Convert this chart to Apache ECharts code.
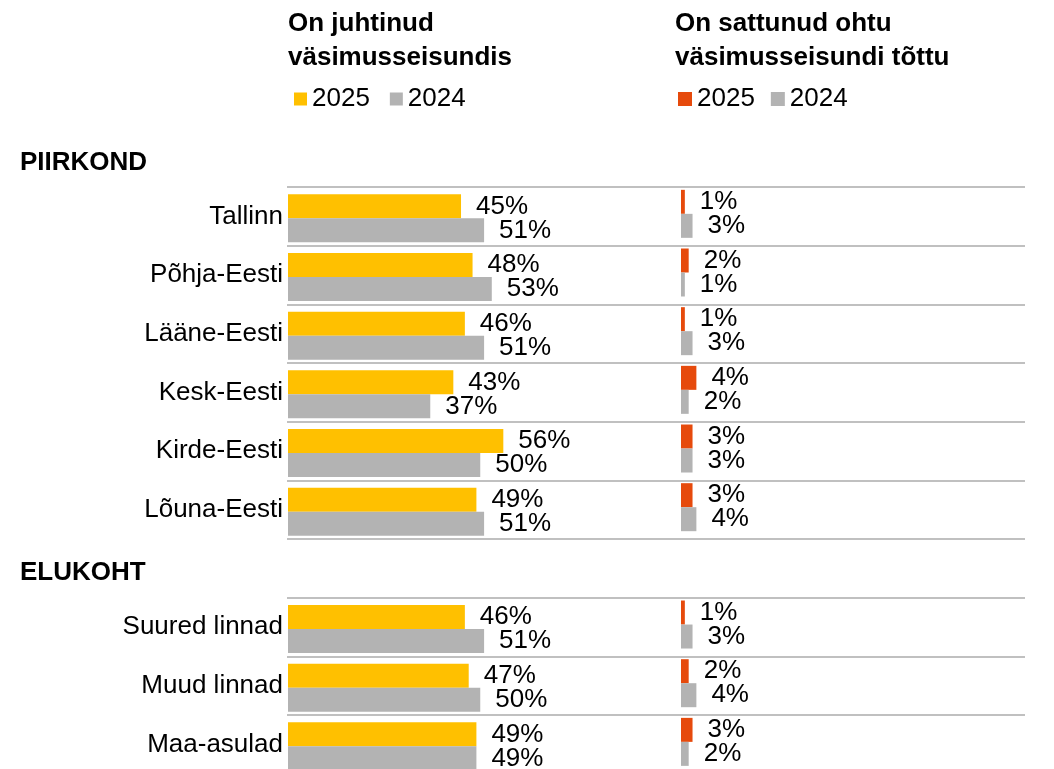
<!DOCTYPE html>
<html>
<head>
<meta charset="utf-8">
<script src="https://cdn.jsdelivr.net/npm/echarts@6/dist/echarts.min.js"></script>
<style>
	html, body {margin: 0; padding: 0; background: #fff;}
	#ec1 {width: 1054px; height: 769px;}
</style>
</head>
<body>
<div id="ec1"></div>
<script>
// piirkond + elukoht, tühi rida vahel
var categories = ['Tallinn', 'Põhja-Eesti', 'Lääne-Eesti', 'Kesk-Eesti', 'Kirde-Eesti', 'Lõuna-Eesti', '', 'Suured linnad', 'Muud linnad', 'Maa-asulad'];
var juhtinud2025 = [45, 48, 46, 43, 56, 49, '-', 46, 47, 49];
var juhtinud2024 = [51, 53, 51, 37, 50, 51, '-', 51, 50, 49];
var ohtu2025 = [1, 2, 1, 4, 3, 3, '-', 1, 2, 3];
var ohtu2024 = [3, 1, 3, 2, 3, 4, '-', 3, 4, 2];
var years = ['2025', '2024'];

var FONT = 'Liberation Sans, Arial, sans-serif';

window.onload = function(){
	joonis();
};

function tulp(name, data, color, axis){
	return {
		name: name,
		type: 'bar',
		xAxisIndex: axis,
		yAxisIndex: axis,
		data: data,
		barWidth: 24,
		barGap: '0%',
		itemStyle: {color: color},
		label: {
			show: true,
			position: 'right',
			distance: 15,
			formatter: '{c}%',
			fontSize: 26,
			fontFamily: FONT,
			color: '#000'
		}
	};
}

function joonis(){
	var myCharts = echarts.init(document.getElementById('ec1'));
	var titleStyle = {fontSize: 26, fontWeight: 'bold', fontFamily: FONT, color: '#000', lineHeight: 34};
	var legendText = {fontSize: 26, fontFamily: FONT, color: '#000'};
	option = {
		animation: false,
		textStyle: {fontFamily: FONT},
		title: [
			{text: 'On juhtinud\nväsimusseisundis', left: 288, top: 6.5, padding: 0, textStyle: titleStyle},
			{text: 'On sattunud ohtu\nväsimusseisundi tõttu', left: 675, top: 6.5, padding: 0, textStyle: titleStyle},
			{text: 'PIIRKOND', left: 20, top: 145.5, padding: 0, textStyle: titleStyle},
			{text: 'ELUKOHT', left: 20, top: 556, padding: 0, textStyle: titleStyle}
		],
		legend: [
			{
				left: 294, top: 86, padding: 0,
				icon: 'rect', itemWidth: 13, itemHeight: 13, itemGap: 20,
				textStyle: legendText,
				data: [{name: years[0], itemStyle: {color: '#FFC000'}}, {name: years[1], itemStyle: {color: '#B3B3B3'}}]
			},
			{
				left: 678, top: 86, padding: 0,
				icon: 'rect', itemWidth: 14, itemHeight: 14, itemGap: 16,
				textStyle: legendText,
				data: [{name: years[0], itemStyle: {color: '#E64A0C'}}, {name: years[1], itemStyle: {color: '#B3B3B3'}}]
			}
		],
		grid: [
			// joonte ja siltide jaoks
			{left: 287, top: 187, width: 738, height: 586.7, outerBoundsMode: 'none'},
			{left: 288, top: 189, width: 384.5, height: 586.7, outerBoundsMode: 'none'},
			{left: 681, top: 184.5, width: 384.5, height: 586.7, outerBoundsMode: 'none'}
		],
		xAxis: [
			{gridIndex: 0, type: 'value', min: 0, max: 1, show: false},
			{gridIndex: 1, type: 'value', min: 0, max: 100, show: false},
			{gridIndex: 2, type: 'value', min: 0, max: 100, show: false}
		],
		yAxis: [
			{
				gridIndex: 0,
				type: 'category',
				inverse: true,
				data: categories,
				axisLine: {show: false},
				axisTick: {show: false},
				axisLabel: {fontSize: 26, fontFamily: FONT, color: '#000', margin: 4, interval: 0},
				splitLine: {show: true, interval: 0, lineStyle: {color: '#C0C0C0', width: 2}}
			},
			{gridIndex: 1, type: 'category', inverse: true, data: categories, show: false},
			{gridIndex: 2, type: 'category', inverse: true, data: categories, show: false}
		],
		series: [
			tulp(years[0], juhtinud2025, '#FFC000', 1),
			tulp(years[1], juhtinud2024, '#B3B3B3', 1),
			tulp(years[0], ohtu2025, '#E64A0C', 2),
			tulp(years[1], ohtu2024, '#B3B3B3', 2)
		]
	};
	myCharts.setOption(option);
}
</script>
</body>
</html>
